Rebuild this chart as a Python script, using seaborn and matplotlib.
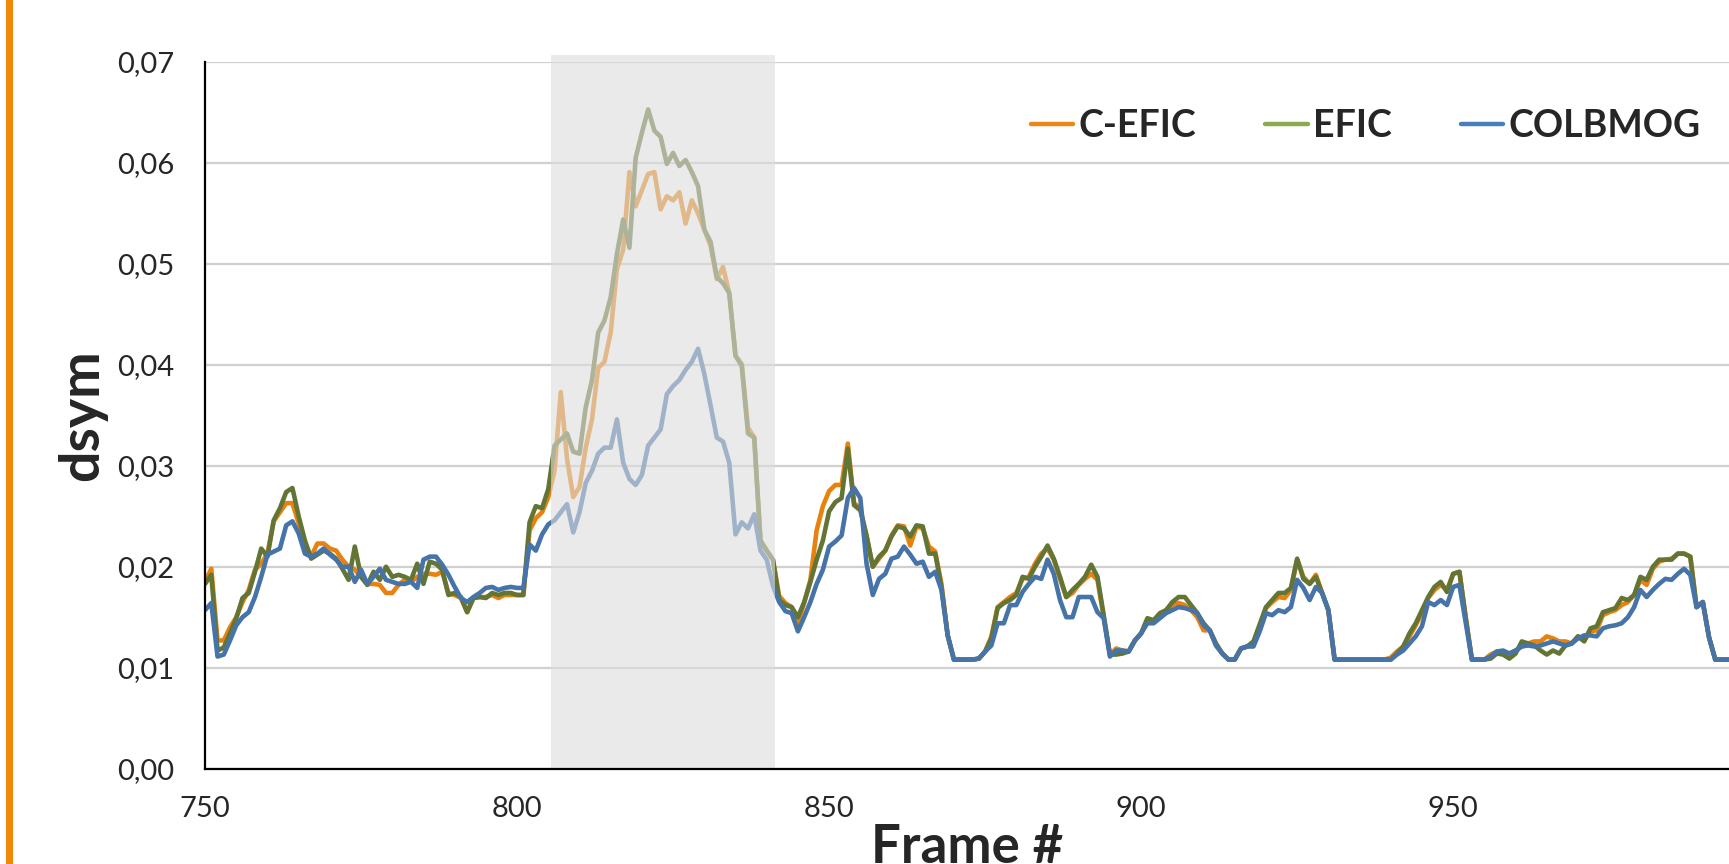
import matplotlib
matplotlib.use("Agg")
import matplotlib.pyplot as plt
from matplotlib.lines import Line2D
from matplotlib.patches import Rectangle
from matplotlib.ticker import MultipleLocator, FuncFormatter
import numpy as np
import pandas as pd
import seaborn as sns

frames = list(range(750, 996))

c_efic = [
    0.0185, 0.0198, 0.0127, 0.0127, 0.0140, 0.0150, 0.0165, 0.0177, 0.0197, 0.0203,
    0.0213, 0.0245, 0.0254, 0.0263, 0.0263, 0.0243, 0.0223, 0.0210, 0.0223, 0.0223,
    0.0218, 0.0216, 0.0207, 0.0200, 0.0197, 0.0190, 0.0183, 0.0183, 0.0182, 0.0174,
    0.0174, 0.0182, 0.0187, 0.0185, 0.0190, 0.0193, 0.0193, 0.0192, 0.0195, 0.0174,
    0.0172, 0.0169, 0.0155, 0.0169, 0.0170, 0.0170, 0.0172, 0.0169, 0.0172, 0.0172,
    0.0172, 0.0172, 0.0236, 0.0248, 0.0254, 0.0269, 0.0295, 0.0373, 0.0307, 0.0269,
    0.0279, 0.0318, 0.0346, 0.0397, 0.0403, 0.0432, 0.0495, 0.0514, 0.0591, 0.0557,
    0.0573, 0.0589, 0.0591, 0.0554, 0.0567, 0.0563, 0.0571, 0.0540, 0.0563, 0.0550,
    0.0534, 0.0518, 0.0485, 0.0497, 0.0471, 0.0409, 0.0401, 0.0338, 0.0328, 0.0226,
    0.0216, 0.0207, 0.0171, 0.0164, 0.0160, 0.0144, 0.0164, 0.0187, 0.0236, 0.0260,
    0.0275, 0.0281, 0.0281, 0.0322, 0.0263, 0.0258, 0.0230, 0.0200, 0.0208, 0.0216,
    0.0231, 0.0241, 0.0240, 0.0221, 0.0240, 0.0238, 0.0220, 0.0215, 0.0183, 0.0132,
    0.0108, 0.0108, 0.0108, 0.0108, 0.0109, 0.0116, 0.0131, 0.0160, 0.0165, 0.0170,
    0.0174, 0.0188, 0.0190, 0.0203, 0.0213, 0.0218, 0.0207, 0.0188, 0.0170, 0.0174,
    0.0182, 0.0188, 0.0193, 0.0187, 0.0150, 0.0113, 0.0119, 0.0117, 0.0116, 0.0127,
    0.0134, 0.0147, 0.0147, 0.0152, 0.0157, 0.0162, 0.0164, 0.0162, 0.0157, 0.0150,
    0.0137, 0.0137, 0.0122, 0.0114, 0.0108, 0.0108, 0.0119, 0.0121, 0.0124, 0.0141,
    0.0159, 0.0165, 0.0170, 0.0169, 0.0177, 0.0207, 0.0190, 0.0183, 0.0192, 0.0174,
    0.0157, 0.0108, 0.0108, 0.0108, 0.0108, 0.0108, 0.0108, 0.0108, 0.0108, 0.0108,
    0.0110, 0.0116, 0.0121, 0.0131, 0.0142, 0.0154, 0.0169, 0.0177, 0.0182, 0.0177,
    0.0193, 0.0195, 0.0150, 0.0108, 0.0108, 0.0108, 0.0113, 0.0116, 0.0116, 0.0114,
    0.0117, 0.0121, 0.0124, 0.0126, 0.0126, 0.0131, 0.0129, 0.0126, 0.0126, 0.0124,
    0.0131, 0.0127, 0.0136, 0.0137, 0.0152, 0.0155, 0.0157, 0.0162, 0.0165, 0.0172,
    0.0187, 0.0182, 0.0198, 0.0205, 0.0207, 0.0208, 0.0213, 0.0213, 0.0210, 0.0160,
    0.0165, 0.0130, 0.0108, 0.0108, 0.0108, 0.0108,
]

efic = [
    0.0183, 0.0192, 0.0117, 0.0120, 0.0134, 0.0149, 0.0169, 0.0174, 0.0195, 0.0218,
    0.0210, 0.0246, 0.0258, 0.0274, 0.0278, 0.0250, 0.0226, 0.0208, 0.0212, 0.0216,
    0.0213, 0.0208, 0.0198, 0.0187, 0.0220, 0.0190, 0.0182, 0.0195, 0.0187, 0.0200,
    0.0190, 0.0192, 0.0190, 0.0187, 0.0203, 0.0183, 0.0205, 0.0203, 0.0197, 0.0172,
    0.0174, 0.0170, 0.0155, 0.0169, 0.0170, 0.0169, 0.0174, 0.0172, 0.0174, 0.0174,
    0.0172, 0.0172, 0.0244, 0.0260, 0.0258, 0.0277, 0.0320, 0.0326, 0.0332, 0.0314,
    0.0312, 0.0358, 0.0385, 0.0432, 0.0444, 0.0467, 0.0510, 0.0544, 0.0516, 0.0605,
    0.0630, 0.0653, 0.0632, 0.0626, 0.0599, 0.0610, 0.0597, 0.0603, 0.0591, 0.0577,
    0.0534, 0.0522, 0.0487, 0.0481, 0.0471, 0.0409, 0.0399, 0.0332, 0.0328, 0.0226,
    0.0216, 0.0207, 0.0167, 0.0162, 0.0160, 0.0150, 0.0165, 0.0185, 0.0207, 0.0226,
    0.0255, 0.0264, 0.0268, 0.0317, 0.0261, 0.0256, 0.0231, 0.0200, 0.0210, 0.0216,
    0.0230, 0.0240, 0.0238, 0.0230, 0.0241, 0.0240, 0.0213, 0.0213, 0.0180, 0.0132,
    0.0108, 0.0108, 0.0108, 0.0108, 0.0109, 0.0116, 0.0129, 0.0159, 0.0164, 0.0167,
    0.0172, 0.0190, 0.0188, 0.0200, 0.0210, 0.0221, 0.0208, 0.0190, 0.0170, 0.0177,
    0.0183, 0.0190, 0.0202, 0.0190, 0.0152, 0.0113, 0.0113, 0.0114, 0.0116, 0.0127,
    0.0134, 0.0149, 0.0147, 0.0154, 0.0157, 0.0165, 0.0170, 0.0170, 0.0162, 0.0154,
    0.0144, 0.0137, 0.0124, 0.0114, 0.0108, 0.0108, 0.0119, 0.0121, 0.0126, 0.0143,
    0.0160, 0.0167, 0.0174, 0.0174, 0.0179, 0.0208, 0.0188, 0.0183, 0.0190, 0.0174,
    0.0157, 0.0108, 0.0108, 0.0108, 0.0108, 0.0108, 0.0108, 0.0108, 0.0108, 0.0108,
    0.0108, 0.0114, 0.0121, 0.0134, 0.0144, 0.0157, 0.0170, 0.0180, 0.0185, 0.0175,
    0.0193, 0.0195, 0.0150, 0.0108, 0.0108, 0.0108, 0.0109, 0.0114, 0.0113, 0.0109,
    0.0114, 0.0126, 0.0124, 0.0122, 0.0117, 0.0113, 0.0117, 0.0114, 0.0122, 0.0124,
    0.0131, 0.0126, 0.0139, 0.0141, 0.0155, 0.0157, 0.0159, 0.0169, 0.0167, 0.0172,
    0.0190, 0.0187, 0.0200, 0.0207, 0.0207, 0.0207, 0.0213, 0.0213, 0.0210, 0.0160,
    0.0165, 0.0130, 0.0108, 0.0108, 0.0108, 0.0108,
]

colbmog = [
    0.0157, 0.0164, 0.0111, 0.0113, 0.0127, 0.0142, 0.0150, 0.0155, 0.0170, 0.0190,
    0.0212, 0.0215, 0.0218, 0.0241, 0.0245, 0.0233, 0.0213, 0.0210, 0.0213, 0.0218,
    0.0212, 0.0207, 0.0200, 0.0200, 0.0185, 0.0197, 0.0183, 0.0190, 0.0198, 0.0187,
    0.0185, 0.0183, 0.0183, 0.0185, 0.0179, 0.0207, 0.0210, 0.0210, 0.0202, 0.0192,
    0.0180, 0.0169, 0.0165, 0.0170, 0.0174, 0.0179, 0.0180, 0.0177, 0.0179, 0.0180,
    0.0179, 0.0179, 0.0222, 0.0216, 0.0232, 0.0242, 0.0246, 0.0254, 0.0262, 0.0234,
    0.0254, 0.0283, 0.0295, 0.0312, 0.0318, 0.0318, 0.0346, 0.0303, 0.0287, 0.0281,
    0.0291, 0.0320, 0.0328, 0.0336, 0.0371, 0.0379, 0.0385, 0.0395, 0.0403, 0.0416,
    0.0391, 0.0360, 0.0328, 0.0324, 0.0303, 0.0232, 0.0244, 0.0238, 0.0252, 0.0216,
    0.0207, 0.0181, 0.0165, 0.0156, 0.0154, 0.0136, 0.0150, 0.0165, 0.0183, 0.0197,
    0.0220, 0.0225, 0.0231, 0.0268, 0.0278, 0.0268, 0.0203, 0.0172, 0.0188, 0.0193,
    0.0208, 0.0210, 0.0220, 0.0212, 0.0203, 0.0205, 0.0190, 0.0195, 0.0177, 0.0132,
    0.0108, 0.0108, 0.0108, 0.0108, 0.0109, 0.0116, 0.0122, 0.0144, 0.0144, 0.0162,
    0.0162, 0.0175, 0.0183, 0.0190, 0.0188, 0.0207, 0.0193, 0.0167, 0.0150, 0.0150,
    0.0170, 0.0170, 0.0170, 0.0155, 0.0149, 0.0111, 0.0117, 0.0117, 0.0116, 0.0127,
    0.0134, 0.0144, 0.0144, 0.0149, 0.0154, 0.0157, 0.0160, 0.0159, 0.0157, 0.0154,
    0.0142, 0.0137, 0.0122, 0.0114, 0.0108, 0.0108, 0.0119, 0.0121, 0.0121, 0.0136,
    0.0154, 0.0152, 0.0157, 0.0155, 0.0160, 0.0187, 0.0179, 0.0167, 0.0180, 0.0174,
    0.0157, 0.0108, 0.0108, 0.0108, 0.0108, 0.0108, 0.0108, 0.0108, 0.0108, 0.0108,
    0.0108, 0.0113, 0.0117, 0.0124, 0.0131, 0.0141, 0.0165, 0.0162, 0.0167, 0.0162,
    0.0180, 0.0182, 0.0145, 0.0108, 0.0108, 0.0108, 0.0111, 0.0116, 0.0117, 0.0114,
    0.0117, 0.0121, 0.0122, 0.0121, 0.0122, 0.0124, 0.0126, 0.0124, 0.0122, 0.0124,
    0.0129, 0.0132, 0.0132, 0.0131, 0.0139, 0.0141, 0.0142, 0.0144, 0.0150, 0.0160,
    0.0177, 0.0170, 0.0177, 0.0183, 0.0188, 0.0187, 0.0193, 0.0198, 0.0192, 0.0160,
    0.0165, 0.0130, 0.0108, 0.0108, 0.0108, 0.0108,
]

series_names = ["C-EFIC", "EFIC", "COLBMOG"]
line_colors = ["#E8820E", "#637535", "#4674A9"]
legend_colors = ["#EE851A", "#8EAA50", "#4A7EBA"]
highlight = (805.4, 841.3)

sns.set_style("white")
plt.rcParams["font.family"] = ["Lato", "DejaVu Sans"]

df = pd.DataFrame({"frame": frames * 3,
                   "dsym": c_efic + efic + colbmog,
                   "method": sum([[n] * len(frames) for n in series_names], [])})

fig = plt.figure(figsize=(17.29, 8.64), dpi=100)
ax = fig.add_axes([0.1186, 0.1104, 0.8814, 0.8178])

sns.lineplot(data=df, x="frame", y="dsym", hue="method", hue_order=series_names,
             palette=line_colors, linewidth=3.3, legend=False, ax=ax, zorder=3)

# faded overlay over the highlighted frames
ax.add_patch(Rectangle((highlight[0], 0), highlight[1] - highlight[0], 0.0707,
                       facecolor="#dddddd", alpha=0.6, edgecolor="none",
                       zorder=4, clip_on=False))

ax.set_xlim(750, 994.2)
ax.set_ylim(0, 0.07)
ax.xaxis.set_major_locator(MultipleLocator(50))
ax.xaxis.set_minor_locator(MultipleLocator(10))
ax.yaxis.set_major_locator(MultipleLocator(0.01))
ax.yaxis.set_major_formatter(FuncFormatter(lambda v, p: f"{v:.2f}".replace(".", ",")))
ax.tick_params(which="both", direction="out", length=10, width=1.5, color="black",
               labelsize=21, pad=10)
ax.tick_params(axis="y", pad=12)

ax.grid(axis="y", color="#d0d0d0", linewidth=1.6, zorder=0)
ax.grid(axis="x", visible=False)
ax.set_axisbelow(True)
for side in ["top", "right"]:
    ax.spines[side].set_visible(False)
for side in ["left", "bottom"]:
    ax.spines[side].set_color("black")
    ax.spines[side].set_linewidth(1.6)
    ax.spines[side].set_zorder(5)

ax.set_xlabel("Frame #", fontsize=38, fontweight="bold")
ax.set_ylabel("dsym", fontsize=40, fontweight="bold")
ax.xaxis.set_label_coords(0.5, -0.077)
ax.yaxis.set_label_coords(-0.064, 0.5)

handles = [Line2D([0], [0], color=c, linewidth=3.2) for c in legend_colors]
fig.legend(handles, series_names, loc="center left", bbox_to_anchor=(0.5963, 0.8545),
           ncol=3, frameon=False, borderpad=0, borderaxespad=0, handlelength=1.13,
           handletextpad=0.13, columnspacing=1.85,
           prop={"size": 27, "weight": "bold"})

# orange accent bar on the left edge
fig.patches.append(Rectangle((6 / 1729, 0), 7 / 1729, 1, transform=fig.transFigure,
                             facecolor="#F0880A", edgecolor="none", figure=fig))

fig.savefig("out.png", dpi=100)
